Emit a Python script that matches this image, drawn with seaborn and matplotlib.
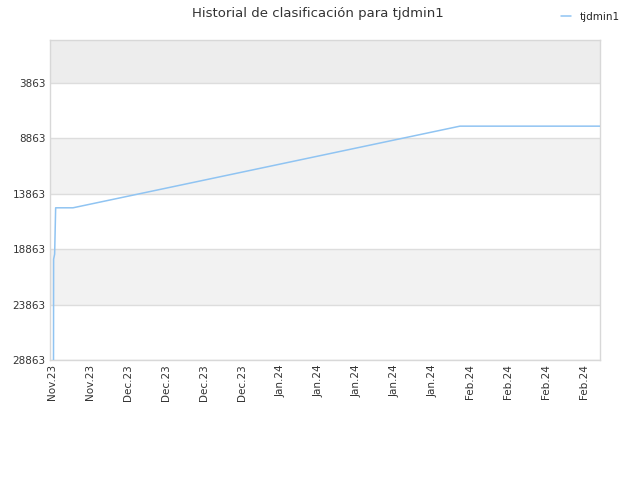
import pandas as pd
import seaborn as sns
import matplotlib.pyplot as plt
from matplotlib.ticker import FixedLocator

# Ranking history (lower number = better rank)
timestamps = ["2023-11-20 07:00", "2023-11-20 07:30", "2023-11-20 12:00",
              "2023-11-20 16:30", "2023-11-23 21:00", "2024-02-03 02:00",
              "2024-02-28 20:00"]
ranks = [28863, 19772, 19317, 15136, 15136, 7772, 7772]
series_name = "tjdmin1"
y_ticks = [3863, 8863, 13863, 18863, 23863, 28863]
x_tick_dates = pd.date_range("2023-11-20", "2024-02-26", freq="7D")

df = pd.DataFrame({"Fecha": pd.to_datetime(timestamps), "Rank": ranks})

sns.set_theme(style="white")
plt.rcParams['font.family'] = ['DejaVu Sans']

fig = plt.figure(figsize=(6.4, 4.8), dpi=100)
ax = fig.add_axes([0.078, 0.25, 0.86, 0.6667])

# alternating bands between the tick levels
band_edges = [0] + y_ticks
for i in range(len(band_edges) - 1):
    if i == 0:
        col = "#ededed"
    elif i % 2 == 0:
        col = "#f2f2f2"
    else:
        col = "#ffffff"
    ax.axhspan(band_edges[i], band_edges[i + 1], color=col, zorder=0, lw=0)
for t in y_ticks:
    ax.axhline(t, color="#dddddd", lw=1, zorder=1)

sns.lineplot(data=df, x="Fecha", y="Rank", ax=ax, color="#90c4f2",
             linewidth=1.1, label=series_name, zorder=3)

ax.set_ylim(28863, 0)
ax.set_xlim(pd.Timestamp("2023-11-19 15:10"), pd.Timestamp("2024-02-28 22:00"))
ax.yaxis.set_major_locator(FixedLocator(y_ticks))
ax.set_yticklabels([str(t) for t in y_ticks])
ax.set_xticks(x_tick_dates)
ax.set_xticklabels([d.strftime("%b.%y") for d in x_tick_dates], rotation=90)
ax.tick_params(axis="both", labelsize=7.5, colors="#333333", length=0, pad=3)
ax.set_xlabel("")
ax.set_ylabel("")
for s in ax.spines.values():
    s.set_color("#d8d8d8")
    s.set_linewidth(1)

fig.suptitle("Historial de clasificación para tjdmin1", x=0.497, y=0.985,
             fontsize=9.5, color="#333333")
ax.legend(loc="upper right", bbox_to_anchor=(0.983, 0.995),
          bbox_transform=fig.transFigure, frameon=False, fontsize=7.5,
          handlelength=1.0, handletextpad=0.8)

plt.savefig("out.png", dpi=100)
